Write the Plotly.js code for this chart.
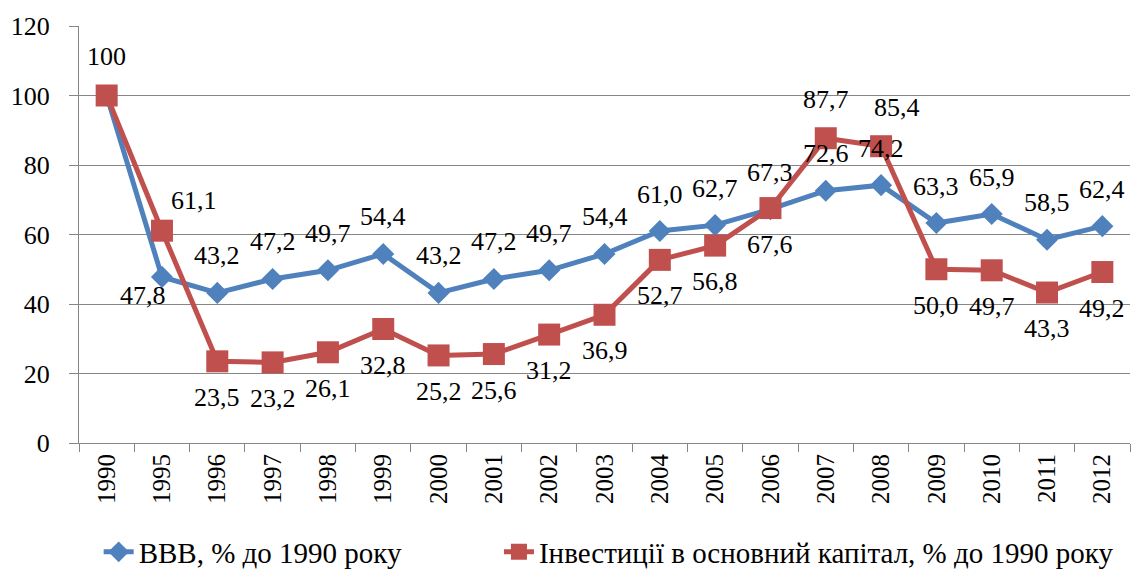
<!DOCTYPE html>
<html>
<head>
<meta charset="utf-8">
<script src="https://cdn.plot.ly/plotly-3.0.1.min.js"></script>
<style>
  html, body { margin: 0; padding: 0; background: #fff; }
  #chart { width: 1134px; height: 571px; }
</style>
</head>
<body>
<div id="chart"></div>
<script>
// chart data
const years = ["1990", "1995", "1996", "1997", "1998", "1999", "2000", "2001", "2002", "2003",
               "2004", "2005", "2006", "2007", "2008", "2009", "2010", "2011", "2012"];
const gdp = [100, 47.8, 43.2, 47.2, 49.7, 54.4, 43.2, 47.2, 49.7, 54.4,
             61.0, 62.7, 67.3, 72.6, 74.2, 63.3, 65.9, 58.5, 62.4];
const invest = [100, 61.1, 23.5, 23.2, 26.1, 32.8, 25.2, 25.6, 31.2, 36.9,
                52.7, 56.8, 67.6, 87.7, 85.4, 50.0, 49.7, 43.3, 49.2];
const gdpName = "ВВВ, % до 1990 року";
const investName = "Інвестиції в основний капітал, % до 1990 року";

const FONT = "'Liberation Serif', 'Times New Roman', serif";
const BLUE = "#4F81BD";
const RED = "#C0504D";

function fmt(v) {
    return v === 100 ? "100" : v.toFixed(1).replace(".", ",");
}

// label placement: blue above the point, red below, a few exceptions
const gdpShift = { "1995": [-19, -19] };
const investShift = { "1990": [0, 39], "1995": [32, 30], "2007": [0, 39], "2008": [16, 39] };

// category axis: annotations take the category index
const annotations = [];
years.forEach((yr, i) => {
    if (yr !== "1990") {
        const s = gdpShift[yr] || [0, 37];
        annotations.push({
            x: i, y: gdp[i], xref: "x", yref: "y", text: fmt(gdp[i]), showarrow: false,
            xanchor: "center", yanchor: "middle", xshift: s[0], yshift: s[1],
            font: { family: FONT, size: 26, color: "#000" }
        });
    }
    const r = investShift[yr] || [0, -36];
    annotations.push({
        x: i, y: invest[i], xref: "x", yref: "y", text: fmt(invest[i]), showarrow: false,
        xanchor: "center", yanchor: "middle", xshift: r[0], yshift: r[1],
        font: { family: FONT, size: 26, color: "#000" }
    });
});

const traces = [
    {
        x: years, y: gdp, name: gdpName, type: "scatter", mode: "lines+markers",
        line: { color: BLUE, width: 5 },
        marker: { symbol: "diamond", size: 17, color: BLUE },
        legend: "legend"
    },
    {
        x: years, y: invest, name: investName, type: "scatter", mode: "lines+markers",
        line: { color: RED, width: 5 },
        marker: { symbol: "square", size: 22, color: RED },
        legend: "legend2"
    }
];

const legendBase = {
    orientation: "h", xref: "container", yref: "container",
    y: 0.078, xanchor: "left", yanchor: "top", bgcolor: "rgba(0,0,0,0)",
    font: { family: FONT, size: 29, color: "#000" }
};

const layout = {
    width: 1134, height: 571,
    margin: { l: 79, r: 4, t: 26, b: 128 },
    paper_bgcolor: "#fff", plot_bgcolor: "#fff",
    font: { family: FONT, color: "#000" },
    showlegend: true,
    legend: Object.assign({}, legendBase, { x: 0.087 }),
    legend2: Object.assign({}, legendBase, { x: 0.44 }),
    xaxis: {
        type: "category", range: [-0.5, years.length - 0.5], autorange: false,
        tickangle: -90, tickson: "boundaries",
        ticks: "outside", ticklen: 8, tickcolor: "#868686",
        showline: true, linecolor: "#868686", linewidth: 1,
        showgrid: false, zeroline: false,
        tickfont: { family: FONT, size: 25, color: "#000" }
    },
    yaxis: {
        range: [0, 120], autorange: false, dtick: 20, tick0: 0,
        ticks: "outside", ticklen: 9, tickcolor: "#868686",
        showline: true, linecolor: "#868686", linewidth: 1,
        showgrid: true, gridcolor: "#868686", gridwidth: 1,
        zeroline: false, ticklabelstandoff: 14,
        tickfont: { family: FONT, size: 26, color: "#000" }
    },
    annotations: annotations
};

Plotly.newPlot("chart", traces, layout, { displayModeBar: false, staticPlot: true });
</script>
</body>
</html>
